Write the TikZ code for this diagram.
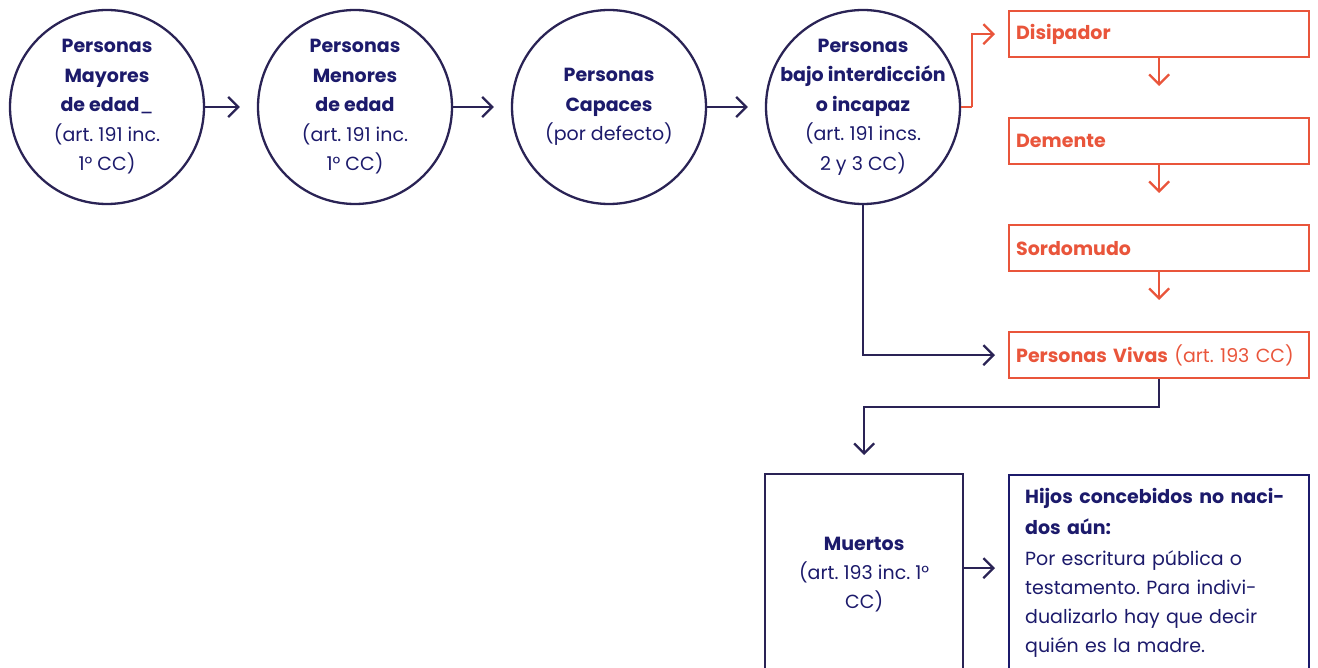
\documentclass[tikz,border=0pt]{standalone}
\usepackage{fontspec}
\setmainfont{Poppins}
\usetikzlibrary{arrows.meta}
\usetikzlibrary{positioning}
\frenchspacing

\definecolor{navy}{HTML}{1C1A6B}
\definecolor{plum}{HTML}{2A2355}
\definecolor{coral}{HTML}{E9553B}

\begin{document}
\begin{tikzpicture}[x=1pt, y=-1pt, line width=2.3pt,
    font=\fontsize{19}{29}\selectfont,
    person/.style={circle, draw=plum, text=navy, minimum size=194pt, inner sep=-20pt, align=center,
        font=\fontsize{19}{29.5}\selectfont, execute at begin node={\vspace*{7pt}}},
    obox/.style={draw=coral, text=coral, minimum height=46pt, text width=286pt, inner xsep=7pt, inner ysep=0pt, align=left, anchor=north west},
    nbox/.style={minimum height=200pt, anchor=north west},
    narrow/.style={plum, -{Straight Barb[length=10pt, width=20pt]}},
    oarrow/.style={coral, -{Straight Barb[length=10pt, width=20pt]}}]
    \useasboundingbox (0,0) rectangle (1318,668);
    \clip (0,0) rectangle (1318,668);
    % circles
    \node[person] (mayores) at (107,107) {\textbf{Personas}\\ \textbf{Mayores}\\ \textbf{de edad}\_\\ (art. 191 inc.\\ 1° CC)};
    \node[person] (menores) at (355,107) {\textbf{Personas}\\ \textbf{Menores}\\ \textbf{de edad}\\ (art. 191 inc.\\ 1° CC)};
    \node[person] (capaces) at (609,107) {\textbf{Personas}\\ \textbf{Capaces}\\ (por defecto)};
    \node[person] (incapaz) at (863,107) {\textbf{Personas}\\ \textbf{bajo interdicción}\\ \textbf{o incapaz}\\ (art. 191 incs.\\ 2 y 3 CC)};
    \draw[narrow] (mayores.east) -- ([xshift=-17pt]menores.west);
    \draw[narrow] (menores.east) -- ([xshift=-17pt]capaces.west);
    \draw[narrow] (capaces.east) -- ([xshift=-17pt]incapaz.west);
    % right column
    \node[obox] (dis) at (1008,10) {\textbf{Disipador}};
    \node[obox] (dem) at (1008,117) {\textbf{Demente}};
    \node[obox] (sordo) at (1008,224) {\textbf{Sordomudo}};
    \node[obox] (vivas) at (1008,331) {\textbf{Personas Vivas} (art.~193~CC)};
    \draw[coral] (incapaz.east) -- ++(11,0) coordinate (bend);
    \draw[oarrow] (bend) |- ([xshift=-13pt]dis.west);
    \draw[oarrow] (dis.south) -- ([yshift=31pt]dem.north);
    \draw[oarrow] (dem.south) -- ([yshift=31pt]sordo.north);
    \draw[oarrow] (sordo.south) -- ([yshift=31pt]vivas.north);
    \draw[narrow] (incapaz.south) |- ([xshift=-13pt]vivas.west);
    % bottom
    \node[nbox, draw=plum, text=navy, minimum width=198pt, align=center] (muertos) at (764,473) {\textbf{Muertos}\\ (art. 193 inc. 1°\\ CC)};
    \node[nbox, draw=navy, minimum width=300pt] (hijos) at (1008,474) {};
    \node[anchor=north west, text=navy, text width=276pt, inner sep=0pt, align=left] (hijostxt) at ([xshift=16pt, yshift=-13pt]hijos.north west)
        {\textbf{Hijos concebidos no naci-}\\[2pt] \textbf{dos aún:}\\[2pt] Por escritura pública o\\ testamento. Para indivi-\\ dualizarlo hay que decir\\ quién es la madre.};
    \draw[narrow] (vivas.south) -- ++(0,28) -| ([yshift=18pt]muertos.north);
    \draw[narrow] ([yshift=6pt]muertos.east) -- ([xshift=-13pt, yshift=6pt]hijos.west |- muertos.east);
\end{tikzpicture}
\end{document}
